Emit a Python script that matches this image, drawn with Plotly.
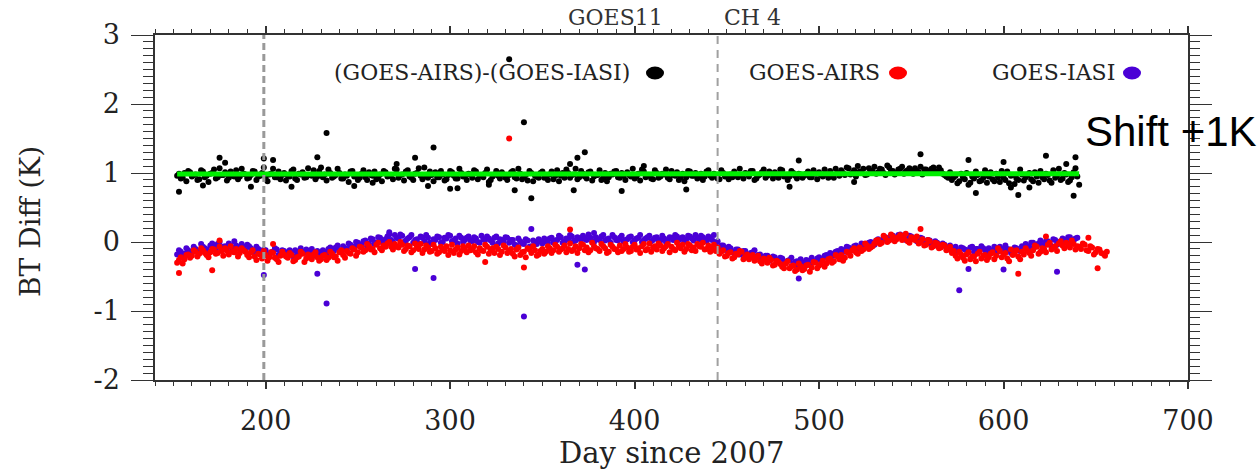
import plotly.graph_objects as go

# ---------------- data ----------------
# GOES-AIRS minus GOES-IASI (+1 K shift), even and odd days
black_days = list(range(152, 641, 2))
black_vals = [
    0.96, 0.92, 1.00, 1.03, 0.95, 0.98, 0.91, 1.02, 0.96, 0.99,
    1.05, 0.94, 0.97, 1.01, 0.93, 0.96, 1.04, 0.95, 0.99, 0.92,
    0.97, 1.02, 0.95, 1.00, 0.93, 0.98, 1.06, 0.94, 0.91, 1.00,
    0.96, 1.03, 0.92, 0.99, 1.01, 0.94, 0.97, 1.04, 0.95, 1.08,
    0.98, 1.05, 0.93, 0.97, 1.00, 0.92, 0.96, 1.02, 0.95, 0.90,
    0.99, 0.94, 1.01, 0.96, 0.91, 0.98, 1.03, 0.95, 0.97, 1.06,
    0.93, 0.98, 1.02, 0.95, 0.90, 1.00, 0.96, 1.08, 0.93, 0.97,
    1.01, 0.94, 0.98, 0.91, 1.03, 0.96, 0.92, 1.00, 0.95, 0.99,
    0.93, 1.02, 0.97, 0.94, 1.05, 0.90, 0.98, 0.96, 1.01, 0.93,
    0.97, 1.03, 0.92, 0.99, 0.95, 0.89, 1.00, 0.96, 0.93, 1.02,
    0.95, 0.98, 0.91, 1.04, 0.96, 0.93, 1.00, 0.97, 1.06, 0.94,
    0.99, 0.92, 1.02, 0.95, 0.97, 0.90, 1.00, 0.94, 0.98, 1.03,
    0.93, 0.96, 1.01, 0.95, 0.92, 0.99, 1.05, 0.94, 0.97, 0.91,
    1.00, 0.95, 0.98, 0.93, 1.03, 0.96, 0.90, 0.99, 0.94, 1.02,
    0.96, 0.92, 0.99, 0.95, 1.04, 0.93, 0.97, 0.91, 1.00, 0.96,
    0.98, 1.02, 0.94, 0.97, 1.00, 0.95, 1.03, 0.92, 0.98, 1.05,
    0.96, 0.99, 1.01, 0.93, 1.04, 0.97, 0.95, 1.00, 0.92, 0.98,
    0.96, 1.02, 0.94, 0.99, 1.01, 0.95, 0.98, 1.03, 0.93, 1.00,
    1.04, 0.97, 1.07, 1.00, 0.95, 1.02, 1.06, 0.98, 1.03, 1.09,
    1.01, 1.05, 0.97, 1.08, 1.03, 1.00, 1.06, 0.99, 1.04, 1.02,
    1.07, 1.01, 0.98, 1.05, 1.03, 1.08, 1.00, 1.04, 0.97, 0.93,
    0.90, 0.96, 0.88, 0.94, 1.00, 0.86, 0.92, 0.97, 0.89, 1.04,
    0.95, 0.91, 0.99, 0.87, 0.93, 1.02, 0.96, 0.84, 0.90, 0.98,
    0.94, 1.00, 0.88, 0.95, 1.03, 0.91, 0.97, 0.86, 0.93, 1.06,
    0.92, 0.98, 0.89, 1.01, 0.95,
]
black_days_b = list(range(153, 640, 2))
black_vals_b = [
    0.99, 0.93, 0.88, 1.01, 0.97, 0.90, 1.04, 0.94, 0.87, 1.00,
    0.92, 1.07, 0.97, 0.89, 1.02, 0.95, 0.91, 1.06, 0.98, 0.93,
    1.03, 0.90, 0.96, 1.08, 0.88, 0.99, 0.94, 1.02, 0.97, 0.89,
    0.95, 1.05, 0.90, 0.98, 0.93, 1.07, 0.96, 0.91, 1.03, 0.94,
    0.89, 1.00, 0.95, 1.06, 0.92, 0.98, 0.87, 1.03, 0.96, 0.93,
    1.04, 0.90, 0.97, 1.02, 0.94, 0.88, 1.01, 0.96, 0.91, 1.05,
    0.97, 0.89, 1.04, 0.93, 0.99, 1.07, 0.91, 0.95, 1.02, 0.88,
    0.94, 1.03, 0.89, 0.97, 1.01, 0.92, 1.06, 0.95, 0.90, 0.98,
    1.04, 0.91, 0.96, 1.00, 0.87, 0.95, 1.03, 0.92, 0.98, 0.90,
    1.01, 0.94, 1.06, 0.91, 0.97, 1.03, 0.88, 0.95, 1.00, 0.93,
    0.90, 1.02, 0.96, 0.88, 1.00, 1.05, 0.93, 0.98, 0.91, 1.03,
    0.95, 1.01, 0.89, 0.97, 1.04, 0.93, 0.88, 0.99, 1.02, 0.94,
    1.00, 0.90, 0.97, 1.06, 0.95, 0.89, 1.02, 0.96, 0.92, 1.04,
    0.93, 0.99, 1.05, 0.91, 0.97, 1.01, 0.94, 0.88, 1.03, 0.96,
    1.00, 0.94, 0.90, 1.02, 0.96, 0.99, 0.92, 1.04, 0.95, 0.91,
    0.94, 0.97, 1.06, 0.92, 0.99, 1.03, 0.90, 0.96, 1.01, 0.93,
    1.02, 0.92, 0.97, 1.05, 0.95, 0.90, 1.03, 0.96, 0.99, 0.93,
    0.99, 0.94, 1.04, 0.91, 0.97, 1.05, 0.93, 0.98, 1.06, 0.96,
    1.00, 1.08, 0.98, 1.04, 1.10, 1.01, 0.97, 1.07, 1.02, 0.99,
    1.06, 1.00, 1.11, 1.03, 0.98, 1.05, 1.09, 1.02, 1.07, 0.99,
    1.03, 1.09, 1.05, 1.00, 1.06, 1.02, 1.08, 0.99, 0.95, 1.01,
    0.94, 0.85, 0.99, 0.91, 0.83, 0.95, 1.02, 0.88, 0.93, 0.86,
    1.01, 0.88, 0.94, 1.03, 0.90, 0.85, 0.97, 0.92, 1.05, 0.89,
    0.97, 0.91, 1.01, 0.86, 0.94, 0.99, 0.89, 1.04, 0.96, 0.90,
    1.00, 0.87, 0.94, 1.07,
]
black_out_days = [153, 166, 175, 178, 192, 199, 204, 214, 228, 233, 248, 258, 271, 281,
                  288, 291, 300, 304, 321, 332, 335, 340, 344, 365, 367, 369, 373, 393,
                  405, 428, 484, 489, 519, 555, 581, 585, 600, 604, 608, 614, 623, 634,
                  638, 639, 641]
black_out_vals = [0.73, 0.82, 1.22, 1.15, 0.80, 1.21, 1.19, 0.80, 1.23, 1.58, 0.81, 0.86, 1.13, 1.22,
                  0.81, 1.37, 0.77, 0.78, 0.83, 2.65, 0.75, 1.735, 0.635, 1.13, 0.75, 1.22, 1.30, 0.74,
                  1.10, 0.76, 0.80, 1.18, 0.87, 1.27, 1.19, 0.71, 1.16, 0.79, 0.68, 0.79, 1.25, 1.13,
                  0.67, 1.23, 0.83]

# GOES-AIRS
red_days = list(range(152, 657, 2))
red_vals = [
    -0.30, -0.22, -0.25, -0.18, -0.20, -0.14, -0.17, -0.12, -0.19, -0.15,
    -0.11, -0.16, -0.13, -0.09, -0.18, -0.14, -0.10, -0.16, -0.12, -0.19,
    -0.15, -0.21, -0.17, -0.24, -0.19, -0.22, -0.16, -0.25, -0.20, -0.18,
    -0.23, -0.19, -0.26, -0.21, -0.17, -0.24, -0.20, -0.18, -0.22, -0.25,
    -0.19, -0.23, -0.17, -0.21, -0.15, -0.19, -0.13, -0.17, -0.11, -0.15,
    -0.08, -0.12, -0.06, -0.10, -0.04, -0.09, -0.05, -0.02, -0.07, -0.03,
    -0.08, -0.04, -0.10, -0.06, -0.12, -0.07, -0.03, -0.11, -0.08, -0.13,
    -0.09, -0.15, -0.10, -0.06, -0.12, -0.16, -0.08, -0.13, -0.10, -0.05,
    -0.11, -0.15, -0.09, -0.13, -0.07, -0.12, -0.16, -0.10, -0.14, -0.08,
    -0.13, -0.17, -0.11, -0.19, -0.14, -0.09, -0.16, -0.12, -0.18, -0.10,
    -0.14, -0.09, -0.12, -0.07, -0.11, -0.05, -0.10, -0.13, -0.06, -0.09,
    -0.04, -0.08, -0.12, -0.06, -0.10, -0.03, -0.09, -0.14, -0.07, -0.11,
    -0.05, -0.10, -0.08, -0.13, -0.04, -0.09, -0.06, -0.12, -0.02, -0.08,
    -0.11, -0.05, -0.09, -0.03, -0.07, -0.12, -0.06, -0.04, -0.10, -0.05,
    -0.08, -0.03, -0.07, -0.11, -0.05, -0.09, -0.13, -0.17, -0.12, -0.20,
    -0.15, -0.22, -0.18, -0.14, -0.21, -0.25, -0.19, -0.23, -0.28, -0.24,
    -0.30, -0.26, -0.33, -0.29, -0.36, -0.31, -0.38, -0.34, -0.40, -0.35,
    -0.39, -0.33, -0.37, -0.30, -0.34, -0.27, -0.31, -0.24, -0.28, -0.21,
    -0.19, -0.23, -0.16, -0.12, -0.15, -0.08, -0.11, -0.05, -0.08, -0.02,
    0.03, -0.01, 0.06, 0.02, 0.08, 0.04, 0.10, 0.05, 0.01, 0.07,
    0.03, -0.02, 0.04, -0.04, 0.01, -0.06, -0.02, -0.08, -0.05, -0.11,
    -0.16, -0.20, -0.14, -0.23, -0.18, -0.25, -0.21, -0.17, -0.24, -0.19,
    -0.22, -0.15, -0.20, -0.13, -0.18, -0.24, -0.11, -0.17, -0.21, -0.14,
    -0.09, -0.16, -0.12, -0.07, -0.14, -0.10, -0.04, -0.11, -0.06, -0.02,
    -0.05, -0.01, -0.08, -0.03, -0.06, -0.10, -0.04, -0.13, -0.08, -0.15,
    -0.11, -0.17, -0.14,
]
red_days_b = list(range(153, 656, 2))
red_vals_b = [
    -0.26, -0.31, -0.19, -0.23, -0.12, -0.21, -0.09, -0.16, -0.22, -0.10,
    -0.17, -0.07, -0.20, -0.13, -0.06, -0.15, -0.21, -0.09, -0.14, -0.22,
    -0.12, -0.26, -0.18, -0.13, -0.27, -0.15, -0.23, -0.29, -0.14, -0.21,
    -0.16, -0.28, -0.22, -0.14, -0.29, -0.18, -0.25, -0.15, -0.27, -0.20,
    -0.26, -0.14, -0.22, -0.27, -0.12, -0.23, -0.16, -0.09, -0.20, -0.07,
    -0.14, -0.03, -0.11, -0.15, -0.01, -0.12, -0.07, 0.00, -0.11, -0.06,
    0.00, -0.13, -0.05, -0.15, -0.02, -0.10, -0.16, -0.05, -0.14, -0.04,
    -0.17, -0.07, -0.13, -0.19, -0.04, -0.11, -0.18, -0.06, -0.15, -0.12,
    -0.06, -0.18, -0.12, -0.04, -0.17, -0.09, -0.07, -0.19, -0.05, -0.16,
    -0.10, -0.21, -0.08, -0.15, -0.22, -0.11, -0.06, -0.20, -0.13, -0.17,
    -0.06, -0.16, -0.04, -0.14, -0.09, -0.15, -0.02, -0.11, -0.16, -0.03,
    -0.12, -0.15, -0.01, -0.09, -0.13, -0.06, -0.16, -0.04, -0.10, -0.15,
    -0.13, -0.03, -0.14, -0.07, -0.11, -0.16, -0.03, -0.10, -0.14, -0.06,
    -0.02, -0.13, -0.06, -0.15, -0.10, -0.01, -0.09, -0.14, -0.03, -0.12,
    -0.13, -0.06, -0.01, -0.10, -0.14, -0.04, -0.08, -0.14, -0.21, -0.16,
    -0.24, -0.17, -0.13, -0.25, -0.18, -0.22, -0.27, -0.20, -0.31, -0.26,
    -0.23, -0.34, -0.27, -0.32, -0.38, -0.28, -0.35, -0.42, -0.31, -0.41,
    -0.34, -0.43, -0.29, -0.38, -0.32, -0.36, -0.25, -0.30, -0.19, -0.25,
    -0.27, -0.14, -0.20, -0.09, -0.17, -0.13, -0.02, -0.10, -0.06, 0.02,
    -0.03, 0.09, 0.00, 0.11, 0.01, 0.07, 0.03, 0.12, -0.01, 0.04,
    0.08, 0.00, -0.05, 0.03, -0.08, -0.01, -0.09, -0.04, -0.12, -0.07,
    -0.13, -0.24, -0.18, -0.27, -0.15, -0.21, -0.28, -0.14, -0.20, -0.26,
    -0.17, -0.25, -0.09, -0.22, -0.16, -0.28, -0.19, -0.12, -0.25, -0.18,
    -0.13, -0.20, -0.05, -0.17, -0.09, -0.15, -0.01, -0.08, -0.13, 0.01,
    -0.09, -0.04, 0.02, -0.11, -0.07, -0.02, -0.12, -0.06, -0.18, -0.10,
    -0.16, -0.20,
]
red_out_days = [153, 171, 175, 204, 319, 332, 340, 365, 555, 608, 623, 646, 651]
red_out_vals = [-0.45, -0.41, 0.02, -0.03, -0.29, 1.50, -0.37, 0.18, 0.19, -0.46, 0.08, 0.06, -0.38]

# GOES-IASI
blue_days = list(range(152, 641, 2))
blue_vals = [
    -0.18, -0.14, -0.17, -0.12, -0.15, -0.10, -0.13, -0.07, -0.11, -0.05,
    -0.08, -0.03, -0.10, -0.06, -0.02, -0.09, -0.05, -0.11, -0.07, -0.04,
    -0.09, -0.13, -0.10, -0.16, -0.12, -0.18, -0.14, -0.11, -0.17, -0.13,
    -0.19, -0.15, -0.12, -0.18, -0.14, -0.11, -0.16, -0.20, -0.13, -0.17,
    -0.14, -0.10, -0.15, -0.08, -0.12, -0.06, -0.10, -0.04, -0.07, -0.01,
    -0.04, 0.02, -0.02, 0.04, -0.01, 0.06, 0.01, 0.08, 0.03, 0.10,
    0.05, 0.09, 0.02, 0.07, -0.01, 0.04, 0.08, 0.01, 0.06, -0.03,
    0.03, 0.07, 0.00, 0.05, 0.09, 0.02, -0.02, 0.06, 0.03, 0.08,
    0.01, 0.05, -0.01, 0.04, 0.08, 0.02, 0.06, -0.02, 0.03, 0.07,
    -0.01, 0.03, -0.05, 0.01, -0.03, 0.02, -0.06, 0.00, 0.04, -0.02,
    0.02, 0.05, -0.01, 0.03, 0.07, 0.01, 0.04, 0.08, 0.02, 0.05,
    0.09, 0.03, 0.06, 0.00, 0.04, 0.08, 0.02, 0.05, 0.10, 0.03,
    0.06, 0.01, 0.04, 0.08, 0.02, 0.06, 0.00, 0.05, 0.09, 0.03,
    0.07, 0.02, 0.05, 0.01, 0.06, 0.10, 0.03, 0.07, 0.04, 0.08,
    0.02, 0.06, 0.09, 0.04, 0.08, 0.03, -0.02, -0.08, -0.05, -0.12,
    -0.09, -0.15, -0.11, -0.17, -0.13, -0.19, -0.15, -0.21, -0.18, -0.23,
    -0.20, -0.25, -0.22, -0.28, -0.24, -0.30, -0.26, -0.32, -0.28, -0.25,
    -0.31, -0.27, -0.23, -0.28, -0.22, -0.25, -0.19, -0.16, -0.20, -0.13,
    -0.10, -0.14, -0.08, -0.11, -0.05, -0.09, -0.03, -0.06, 0.00, -0.04,
    0.04, 0.01, 0.07, 0.03, 0.09, 0.05, 0.11, 0.06, 0.02, 0.08,
    0.04, 0.00, 0.05, -0.03, 0.02, -0.05, -0.01, -0.07, -0.04, -0.09,
    -0.11, -0.07, -0.13, -0.09, -0.12, -0.08, -0.14, -0.10, -0.06, -0.12,
    -0.09, -0.15, -0.11, -0.07, -0.13, -0.10, -0.16, -0.08, -0.12, -0.06,
    -0.03, -0.08, -0.01, -0.05, 0.02, -0.04, 0.01, -0.06, 0.03, -0.02,
    0.05, 0.00, 0.07, 0.02, 0.06,
]
blue_days_b = list(range(153, 640, 2))
blue_vals_b = [
    -0.12, -0.19, -0.09, -0.15, -0.07, -0.13, -0.03, -0.09, -0.14, -0.02,
    -0.10, 0.00, -0.07, -0.12, -0.05, 0.01, -0.08, -0.03, -0.12, -0.06,
    -0.14, -0.07, -0.17, -0.11, -0.20, -0.15, -0.09, -0.19, -0.12, -0.16,
    -0.12, -0.21, -0.16, -0.09, -0.15, -0.19, -0.10, -0.15, -0.21, -0.12,
    -0.18, -0.08, -0.13, -0.05, -0.15, -0.09, -0.02, -0.08, 0.00, -0.05,
    0.01, -0.06, 0.05, -0.03, 0.07, 0.00, 0.04, 0.11, 0.00, 0.06,
    0.11, 0.00, 0.05, 0.10, 0.03, -0.02, 0.06, 0.10, -0.01, 0.04,
    0.08, -0.01, 0.06, 0.10, 0.01, 0.05, 0.09, 0.00, 0.06, 0.02,
    0.07, 0.00, 0.09, 0.03, 0.05, -0.01, 0.08, 0.04, 0.00, 0.06,
    0.03, -0.04, 0.05, -0.02, 0.04, -0.07, 0.02, -0.03, 0.01, 0.05,
    -0.01, 0.06, 0.02, 0.09, -0.01, 0.05, 0.10, 0.01, 0.07, 0.03,
    0.05, 0.11, 0.01, 0.07, 0.03, 0.10, 0.04, -0.01, 0.07, 0.02,
    0.09, 0.03, 0.07, 0.00, 0.05, 0.10, 0.03, 0.07, 0.01, 0.06,
    0.03, 0.09, 0.00, 0.07, 0.03, 0.08, 0.05, 0.01, 0.09, 0.05,
    0.10, 0.04, 0.07, 0.01, 0.05, 0.10, 0.01, -0.05, -0.10, -0.07,
    -0.14, -0.11, -0.18, -0.13, -0.20, -0.16, -0.12, -0.19, -0.24, -0.20,
    -0.27, -0.21, -0.26, -0.23, -0.31, -0.27, -0.23, -0.29, -0.35, -0.30,
    -0.26, -0.33, -0.29, -0.24, -0.27, -0.20, -0.23, -0.17, -0.14, -0.18,
    -0.12, -0.07, -0.13, -0.06, -0.10, -0.02, -0.07, -0.01, -0.05, 0.02,
    0.00, 0.06, 0.02, 0.08, 0.04, 0.10, 0.07, 0.03, 0.09, 0.05,
    0.01, 0.06, -0.01, 0.03, -0.03, 0.01, -0.06, -0.02, -0.08, -0.05,
    -0.09, -0.14, -0.08, -0.11, -0.15, -0.07, -0.10, -0.13, -0.09, -0.15,
    -0.12, -0.07, -0.14, -0.10, -0.05, -0.11, -0.14, -0.09, -0.13, -0.08,
    -0.06, -0.01, -0.07, -0.02, -0.05, 0.01, -0.03, 0.04, -0.04, 0.01,
    0.03, 0.07, 0.01, 0.05,
]
blue_out_days = [199, 228, 233, 267, 281, 291, 340, 344, 369, 373, 378, 489, 576, 581, 600, 629]
blue_out_vals = [-0.48, -0.46, -0.89, 0.14, -0.39, -0.52, -1.08, 0.19, -0.33, -0.40, 0.13, -0.53,
                 -0.70, -0.39, -0.40, -0.43]

# linear fit through the shifted difference
fit_days = [152, 641]
fit_vals = [0.985, 0.99]

event_days = [199, 445]

x_range = [140, 700]
y_range = [-2, 3]
y_tickvals = [-2, -1, 0, 1, 2, 3]
y_ticktext = ["-2", "-1", "0", "1", "2", "3"]

title_parts = ["GOES11", "CH 4"]
legend_labels = ["(GOES-AIRS)-(GOES-IASI)", "GOES-AIRS", "GOES-IASI"]

# ---------------- figure ----------------
BLACK = "#000000"
RED = "#ff0000"
BLUE = "#4a00d6"
GREEN = "#00ee00"
SERIF = "DejaVu Serif"
TXT = "#222222"

fig = go.Figure()
mk = dict(size=6, line=dict(width=0))
fig.add_trace(go.Scatter(x=blue_days + blue_days_b + blue_out_days,
                         y=blue_vals + blue_vals_b + blue_out_vals,
                         mode="markers", marker=dict(color=BLUE, **mk)))
fig.add_trace(go.Scatter(x=red_days + red_days_b + red_out_days,
                         y=red_vals + red_vals_b + red_out_vals,
                         mode="markers", marker=dict(color=RED, **mk)))
fig.add_trace(go.Scatter(x=black_days + black_days_b + black_out_days,
                         y=black_vals + black_vals_b + black_out_vals,
                         mode="markers", marker=dict(color=BLACK, **mk)))
fig.add_trace(go.Scatter(x=fit_days, y=fit_vals, mode="lines",
                         line=dict(color=GREEN, width=5)))

W, H = 1260, 470
L, R, T, B = 155, 72, 35, 90
pw, ph = W - L - R, H - T - B


def px(xp):
    return (xp - L) / pw


def py(yp):
    return (H - B - yp) / ph


shapes = []
shapes.append(dict(type="line", xref="x", yref="paper", x0=event_days[0], x1=event_days[0],
                   y0=0, y1=1, line=dict(color="#999999", width=3, dash="7px,4px")))
shapes.append(dict(type="line", xref="x", yref="paper", x0=event_days[1], x1=event_days[1],
                   y0=0, y1=1, line=dict(color="#a0a0a0", width=2, dash="8px,6px")))

annotations = []
annotations.append(dict(text=title_parts[0], x=px(615), y=py(18), xref="paper", yref="paper",
                        showarrow=False, font=dict(family=SERIF, size=22, color="#333333"),
                        xanchor="center", yanchor="middle"))
annotations.append(dict(text=title_parts[1], x=px(752), y=py(18), xref="paper", yref="paper",
                        showarrow=False, font=dict(family=SERIF, size=22, color="#333333"),
                        xanchor="center", yanchor="middle"))

leg_text_right = [632, 882, 1117]
leg_dot_x = [655, 898, 1132]
leg_colors = [BLACK, RED, BLUE]
for lab, tx, dx, col in zip(legend_labels, leg_text_right, leg_dot_x, leg_colors):
    annotations.append(dict(text=lab, x=px(tx), y=py(73), xref="paper", yref="paper",
                            showarrow=False, font=dict(family=SERIF, size=22, color=TXT),
                            xanchor="right", yanchor="middle"))
    shapes.append(dict(type="circle", xref="paper", yref="paper",
                       x0=px(dx - 9), x1=px(dx + 9), y0=py(73 + 6.5), y1=py(73 - 6.5),
                       fillcolor=col, line=dict(width=0)))

annotations.append(dict(text="Shift +1K", x=px(1083), y=py(131), xref="paper", yref="paper",
                        showarrow=False, font=dict(family="Liberation Sans", size=42, color="#000000"),
                        xanchor="left", yanchor="middle"))
annotations.append(dict(text="BT Diff (K)", x=px(30), y=py(222), xref="paper", yref="paper",
                        showarrow=False, textangle=-90,
                        font=dict(family=SERIF, size=28, color=TXT),
                        xanchor="center", yanchor="middle"))
annotations.append(dict(text="Day since 2007", x=px(671), y=py(453), xref="paper", yref="paper",
                        showarrow=False, font=dict(family=SERIF, size=29, color=TXT),
                        xanchor="center", yanchor="middle"))

AX = "#333333"
fig.update_layout(
    width=W, height=H,
    margin=dict(l=L, r=R, t=T, b=B, pad=0),
    paper_bgcolor="white", plot_bgcolor="white",
    showlegend=False,
    shapes=shapes, annotations=annotations,
    xaxis=dict(range=x_range, tick0=0, dtick=100, showgrid=False, zeroline=False,
               showline=True, linecolor=AX, linewidth=1.5, mirror="ticks",
               ticks="outside", ticklen=7, tickwidth=1.5, tickcolor=AX,
               tickfont=dict(family=SERIF, size=27, color=TXT), ticklabelstandoff=9,
               minor=dict(dtick=10, ticks="outside", ticklen=4, tickwidth=1, tickcolor=AX,
                          showgrid=False)),
    yaxis=dict(range=y_range, tickmode="array", tickvals=y_tickvals, ticktext=y_ticktext,
               showgrid=False, zeroline=False,
               showline=True, linecolor=AX, linewidth=1.5, mirror="ticks",
               ticks="outside", ticklen=22, tickwidth=1, tickcolor=AX,
               tickfont=dict(family=SERIF, size=27, color=TXT), ticklabelstandoff=6,
               minor=dict(dtick=0.1, ticks="outside", ticklen=10, tickwidth=1, tickcolor=AX,
                          showgrid=False)),
)

fig.write_html("out.html", config={"displayModeBar": False},
               post_script="document.body.style.margin='0';")
